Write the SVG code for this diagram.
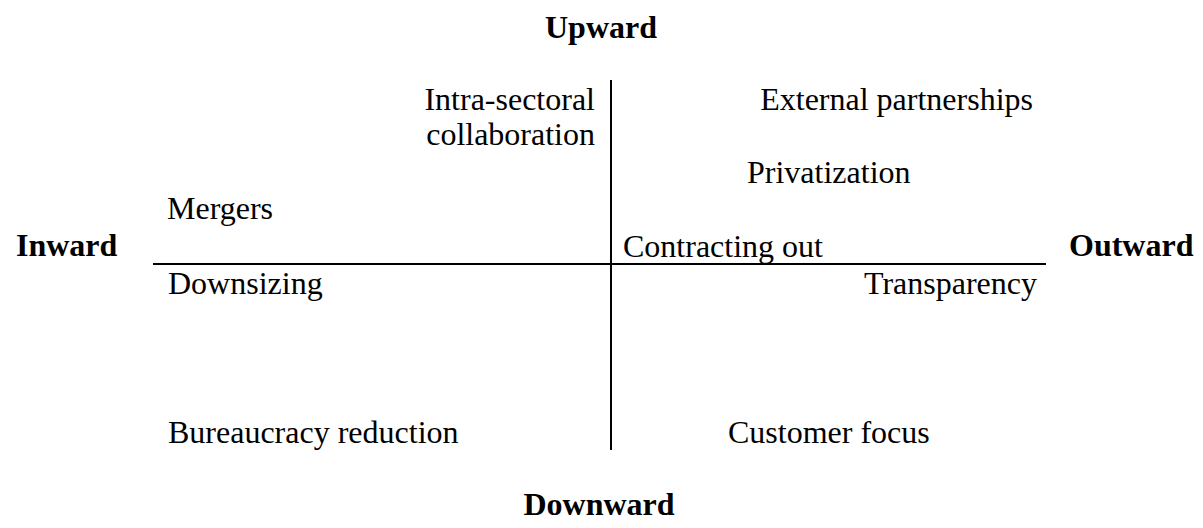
<svg xmlns="http://www.w3.org/2000/svg" width="1203" height="528" viewBox="0 0 1203 528">
<style>
text{font-family:"Liberation Serif","Times New Roman",serif;font-size:32px;fill:#000}
.b{font-weight:bold}
.ax{stroke:#000;stroke-width:2;fill:none}
</style>
<rect width="1203" height="528" fill="#fff"/>
<g id="connectors">
<line class="ax" x1="611" y1="80" x2="611" y2="450"/>
<line class="ax" x1="153" y1="264" x2="1046" y2="264"/>
</g>
<g id="upward"><text class="b" x="601" y="38" text-anchor="middle">Upward</text></g>
<g id="downward"><text class="b" x="599" y="515" text-anchor="middle">Downward</text></g>
<g id="inward"><text class="b" x="16" y="256">Inward</text></g>
<g id="outward"><text class="b" x="1069" y="256">Outward</text></g>
<g id="intra"><text x="595" y="110" text-anchor="end">Intra-sectoral</text><text x="595" y="145" text-anchor="end">collaboration</text></g>
<g id="external"><text x="1033" y="110" text-anchor="end">External partnerships</text></g>
<g id="privatization"><text x="747" y="183">Privatization</text></g>
<g id="mergers"><text x="167" y="219">Mergers</text></g>
<g id="contracting"><text x="623" y="257">Contracting out</text></g>
<g id="downsizing"><text x="168" y="294">Downsizing</text></g>
<g id="transparency"><text x="1037" y="294" text-anchor="end">Transparency</text></g>
<g id="bureaucracy"><text x="168" y="443">Bureaucracy reduction</text></g>
<g id="customer"><text x="728" y="443">Customer focus</text></g>
</svg>
